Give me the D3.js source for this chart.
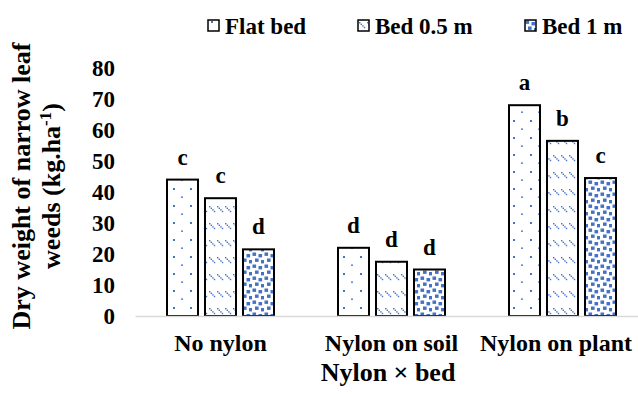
<!DOCTYPE html>
<html>
<head>
<meta charset="utf-8">
<script src="https://cdn.jsdelivr.net/npm/d3@7"></script>
<style>
  body { margin: 0; background: #fff; }
  text { font-family: "Liberation Serif", "Times New Roman", serif; font-weight: bold; fill: #000; }
</style>
</head>
<body>
<div id="chart-area"></div>
<script>
// chart data
let categories = ["No nylon", "Nylon on soil", "Nylon on plant"];
let series = ["Flat bed", "Bed 0.5 m", "Bed 1 m"];
let flatBed = [44, 22, 68];
let bed05 = [38, 17.5, 56.5];
let bed1 = [21.5, 15, 44.5];
let flatLetters = ["c", "d", "a"];
let bed05Letters = ["c", "d", "b"];
let bed1Letters = ["d", "d", "c"];
let yTicks = [0, 10, 20, 30, 40, 50, 60, 70, 80];

let values = [flatBed, bed05, bed1];
let letters = [flatLetters, bed05Letters, bed1Letters];

let width = 638,
	height = 394;

let svg = d3.select("#chart-area").append("svg")
	.attr("width", width)
	.attr("height", height);

// fill patterns
let defs = svg.append("defs");
let blue = "#4472C4";

let p1 = defs.append("pattern").attr("id", "pat0")
	.attr("patternUnits", "userSpaceOnUse").attr("width", 17).attr("height", 17)
	.attr("x", 173).attr("y", 0);
p1.append("rect").attr("width", 17).attr("height", 17).attr("fill", "#fff");
p1.append("rect").attr("x", 0).attr("y", 1).attr("width", 2).attr("height", 2).attr("fill", blue);
p1.append("rect").attr("x", 8).attr("y", 9.5).attr("width", 2).attr("height", 1.3).attr("fill", blue);

let p2 = defs.append("pattern").attr("id", "pat1")
	.attr("patternUnits", "userSpaceOnUse").attr("width", 8).attr("height", 17);
p2.append("rect").attr("width", 8).attr("height", 17).attr("fill", "#fff");
[0, 1.6, 3.2, 4.8].forEach(o => {
	p2.append("rect").attr("x", 1 + o).attr("y", 2 + o).attr("width", 1.4).attr("height", 1.4).attr("fill", blue);
});

let p3 = defs.append("pattern").attr("id", "pat2")
	.attr("patternUnits", "userSpaceOnUse").attr("width", 12).attr("height", 12);
p3.append("rect").attr("width", 12).attr("height", 12).attr("fill", "#fff");
[[0.5, 0.5], [6.5, 2], [3, 6.5], [9, 8]].forEach(c => {
	p3.append("rect").attr("x", c[0]).attr("y", c[1]).attr("width", 3.6).attr("height", 3.4).attr("fill", blue);
});

// scales
let x = d3.scaleBand()
	.domain(categories)
	.range([135, 648]);

let xInner = d3.scaleBand()
	.domain(series)
	.range([32, 139])
	.paddingInner(0.184);

let y = d3.scaleLinear()
	.domain([0, 80])
	.range([316, 68]);

// y tick labels
let yAxis = d3.axisLeft(y)
	.tickValues(yTicks)
	.tickSize(0)
	.tickPadding(0);

let gy = svg.append("g")
	.attr("transform", "translate(115,0)")
	.call(yAxis);
gy.select(".domain").remove();
gy.selectAll("text")
	.attr("font-family", null)
	.style("font-size", "23px")
	.attr("dy", "0.34em");

// bars
series.forEach((s, si) => {
	let g = svg.append("g");
	g.selectAll("rect").data(categories).enter()
		.append("rect")
		.attr("x", d => x(d) + xInner(s))
		.attr("y", (d, i) => y(values[si][i]))
		.attr("width", xInner.bandwidth())
		.attr("height", (d, i) => y(0) - y(values[si][i]))
		.attr("fill", "url(#pat" + si + ")")
		.attr("stroke", "#000")
		.attr("stroke-width", 2);

	g.selectAll("text").data(categories).enter()
		.append("text")
		.attr("x", d => x(d) + xInner(s) + xInner.bandwidth() / 2)
		.attr("y", (d, i) => y(values[si][i]) - 15)
		.attr("text-anchor", "middle")
		.style("font-size", "23px")
		.text((d, i) => letters[si][i]);
});

// x axis line
let xAxis = d3.axisBottom(x).tickSize(0).tickPadding(0);
let gx = svg.append("g")
	.attr("transform", "translate(0," + y(0) + ")")
	.call(xAxis);
gx.select(".domain").attr("stroke", "#D9D9D9").attr("stroke-width", 1.5);
gx.selectAll("text").remove();

// category labels, kept inside the picture like the original
let catLabels = svg.append("g").selectAll("text").data(categories).enter()
	.append("text")
	.attr("y", 351)
	.attr("text-anchor", "middle")
	.style("font-size", "24px")
	.text(d => d);
catLabels.attr("x", function (d) {
	let half = this.getComputedTextLength() / 2;
	let cx = x(d) + x.bandwidth() / 2;
	return Math.min(cx, 632 - half);
});

// axis titles
svg.append("text")
	.attr("x", 388)
	.attr("y", 381)
	.attr("text-anchor", "middle")
	.style("font-size", "26px")
	.text("Nylon × bed");

let yTitle = svg.append("text")
	.attr("transform", "translate(30,186) rotate(-90)")
	.attr("text-anchor", "middle")
	.style("font-size", "26px");
yTitle.append("tspan").attr("x", 0).attr("y", 0).text("Dry weight of narrow leaf");
let line2 = yTitle.append("tspan").attr("x", 0).attr("y", 30);
line2.append("tspan").text("weeds (kg.ha");
line2.append("tspan").attr("dy", -9).style("font-size", "17px").text("-1");
line2.append("tspan").attr("dy", 9).text(")");

// legend
let legendX = [208, 358, 525];
let legend = svg.append("g").selectAll("g").data(series).enter()
	.append("g")
	.attr("transform", (d, i) => "translate(" + legendX[i] + ",20)");
legend.append("rect")
	.attr("width", 11).attr("height", 11)
	.attr("fill", (d, i) => "url(#pat" + i + ")")
	.attr("stroke", "#000")
	.attr("stroke-width", 1.5);
legend.append("text")
	.attr("x", 17)
	.attr("y", 14)
	.style("font-size", "23px")
	.text(d => d);
</script>
</body>
</html>
